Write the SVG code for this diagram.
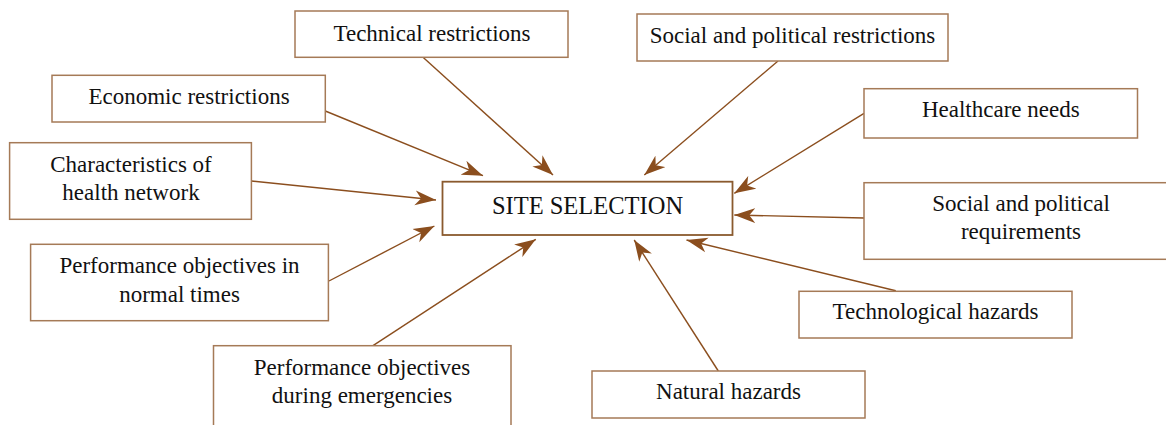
<svg xmlns="http://www.w3.org/2000/svg" width="1166" height="425" viewBox="0 0 1166 425">
<defs>
<marker id="ah" markerUnits="userSpaceOnUse" markerWidth="22" markerHeight="16" viewBox="0 0 22 16" refX="21" refY="8" orient="auto">
<path d="M0,0.5 L21,8 L0,15.5 L6,8 Z" fill="#8B4E1E"/>
</marker>
</defs>
<style>
.box{fill:#fff;stroke:#A57A57;stroke-width:1.5}
.main{fill:#fff;stroke:#8A5A2E;stroke-width:1.8}
.t{font-family:"Liberation Serif","Times New Roman",serif;font-size:23px;fill:#111;text-anchor:middle}
.c{stroke:#8B4E1E;stroke-width:1.4;fill:none;marker-end:url(#ah)}
</style>
<rect width="1166" height="425" fill="#fff"/>
<g id="connectors">
<line class="c" x1="423" y1="57.3" x2="553" y2="175"/>
<line class="c" x1="325.3" y1="111" x2="483" y2="175.7"/>
<line class="c" x1="251.4" y1="181" x2="436" y2="200"/>
<line class="c" x1="778" y1="61" x2="644.3" y2="175"/>
<line class="c" x1="864" y1="113.3" x2="734.3" y2="193.3"/>
<line class="c" x1="864" y1="218" x2="734.3" y2="215"/>
<line class="c" x1="895.8" y1="290.7" x2="686.5" y2="240"/>
<line class="c" x1="718.3" y1="371" x2="634.2" y2="240"/>
<line class="c" x1="329" y1="281" x2="434.4" y2="226"/>
<line class="c" x1="373" y1="345.7" x2="535.8" y2="239.3"/>
</g>
<g id="site-selection">
<rect class="main" x="442.5" y="181.7" width="290" height="53.3"/>
<text class="t" x="587.5" y="214" style="font-size:24.5px">SITE SELECTION</text>
</g>
<g id="technical-restrictions">
<rect class="box" x="295" y="11" width="273" height="46.3"/>
<text class="t" x="432" y="40.7">Technical restrictions</text>
</g>
<g id="economic-restrictions">
<rect class="box" x="52" y="75.3" width="273.3" height="46.7"/>
<text class="t" x="189" y="104">Economic restrictions</text>
</g>
<g id="characteristics-health-network">
<rect class="box" x="9.6" y="142.7" width="241.8" height="76.6"/>
<text class="t" x="131" y="171.7">Characteristics of</text>
<text class="t" x="131" y="200">health network</text>
</g>
<g id="social-political-restrictions">
<rect class="box" x="637" y="14" width="311" height="47"/>
<text class="t" x="792.5" y="43.3">Social and political restrictions</text>
</g>
<g id="healthcare-needs">
<rect class="box" x="864" y="88.7" width="273.5" height="49.3"/>
<text class="t" x="1000.8" y="117">Healthcare needs</text>
</g>
<g id="social-political-requirements">
<rect class="box" x="864" y="182.7" width="314" height="76.6"/>
<text class="t" x="1021" y="210.7">Social and political</text>
<text class="t" x="1021" y="239.3">requirements</text>
</g>
<g id="technological-hazards">
<rect class="box" x="799" y="291.3" width="273" height="46.7"/>
<text class="t" x="935.5" y="319.3">Technological hazards</text>
</g>
<g id="natural-hazards">
<rect class="box" x="592" y="371" width="273" height="47"/>
<text class="t" x="728.5" y="399.3">Natural hazards</text>
</g>
<g id="performance-normal">
<rect class="box" x="30.6" y="244.3" width="297.8" height="76.4"/>
<text class="t" x="179.5" y="272.7">Performance objectives in</text>
<text class="t" x="179.5" y="301.7">normal times</text>
</g>
<g id="performance-emergencies">
<rect class="box" x="213.5" y="345.7" width="297.5" height="90"/>
<text class="t" x="362" y="375">Performance objectives</text>
<text class="t" x="362" y="403.3">during emergencies</text>
</g>
</svg>
